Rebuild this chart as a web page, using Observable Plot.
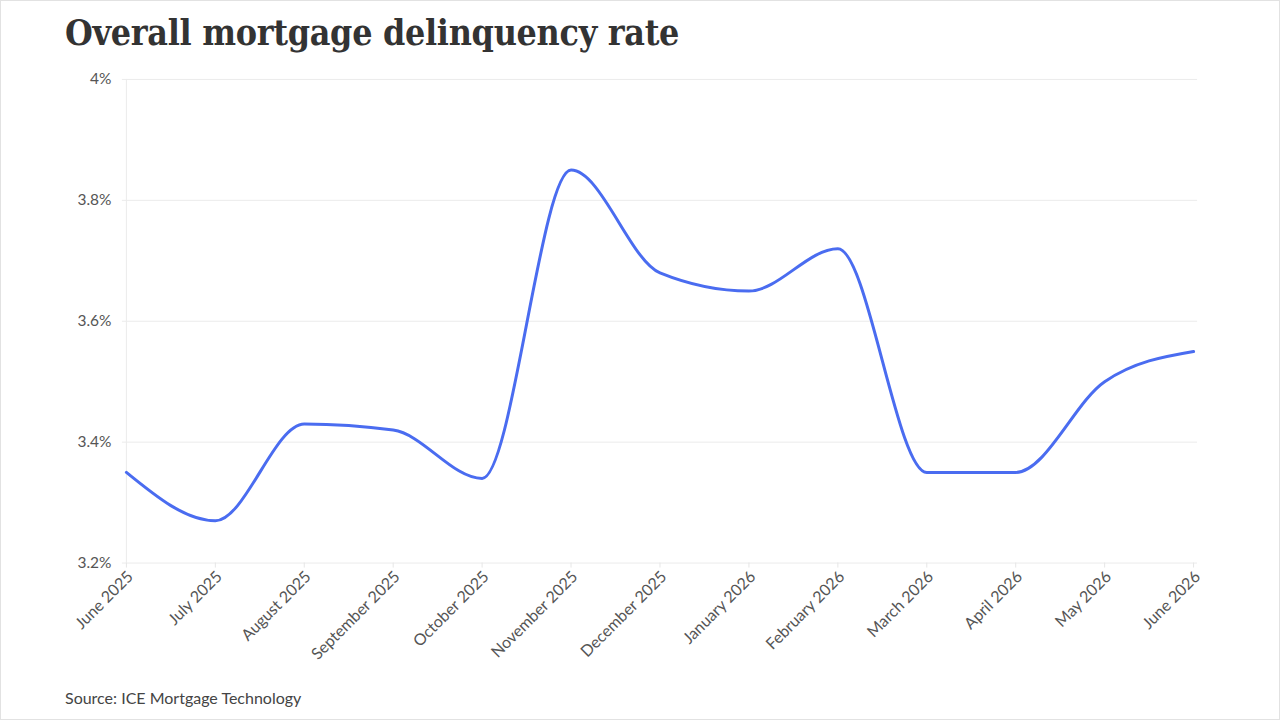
<!DOCTYPE html>
<html>
<head>
<meta charset="utf-8">
<script src="https://cdn.jsdelivr.net/npm/d3@7"></script>
<script src="https://cdn.jsdelivr.net/npm/@observablehq/plot@0.6"></script>
<style>
  html, body { margin: 0; padding: 0; background: #fff; }
  #frame {
    position: relative; width: 1280px; height: 720px; box-sizing: border-box;
    border: 1px solid #e2e2e2; overflow: hidden; background: #fff;
  }
  #title {
    position: absolute; left: 64px; top: 11px; margin: 0;
    font-family: "DejaVu Serif", serif; font-weight: bold; font-stretch: condensed;
    font-size: 35.5px; color: #333; letter-spacing: -0.3px; white-space: nowrap;
  }
  #source {
    position: absolute; left: 64px; top: 687px;
    font-family: Lato, sans-serif; font-size: 16px; color: #444;
  }
  #chart { position: absolute; left: -1px; top: -1px; }
  #chart svg text { font-family: Lato, sans-serif; }
</style>
</head>
<body>
<div id="frame">
  <h1 id="title">Overall mortgage delinquency rate</h1>
  <div id="chart"></div>
  <div id="source">Source: ICE Mortgage Technology</div>
</div>
<script>
// Monthly overall delinquency rate, percent
const months = [
  "June 2025", "July 2025", "August 2025", "September 2025", "October 2025",
  "November 2025", "December 2025", "January 2026", "February 2026",
  "March 2026", "April 2026", "May 2026", "June 2026"
];
const rates = [3.35, 3.27, 3.43, 3.42, 3.34, 3.85, 3.68, 3.65, 3.72, 3.35, 3.35, 3.50, 3.55];
const yTicks = [3.2, 3.4, 3.6, 3.8, 4.0];

const data = months.map((m, i) => ({month: m, rate: rates[i]}));

const chart = Plot.plot({
  width: 1280,
  height: 720,
  marginLeft: 122,
  marginRight: 82,
  marginTop: 79,
  marginBottom: 157,
  style: {fontFamily: "Lato, sans-serif", fontSize: "16px", color: "#555", background: "transparent"},
  x: {type: "point", domain: months, padding: 0, label: null},
  y: {domain: [3.2, 4.0], label: null},
  marks: [
    Plot.gridY(yTicks, {stroke: "#ebebeb", strokeOpacity: 1, strokeWidth: 1}),
    Plot.ruleX([months[0]], {stroke: "#ebebeb", strokeWidth: 1}),
    Plot.axisY(yTicks, {
      tickSize: 0, tickPadding: 11, fontSize: 15.5, fill: "#555",
      tickFormat: d => `${+d.toFixed(1)}%`
    }),
    // short light tick marks under each month
    Plot.axisX({tickSize: 5, stroke: "#e6e6e6", tickFormat: () => ""}),
    // rotated month labels, nudged down the tick line
    Plot.axisX({
      tickSize: 0, tickPadding: 11, tickRotate: -45, fontSize: 16, fill: "#555", dx: 4
    }),
    Plot.line(data, {
      x: "month", y: "rate", curve: "monotone-x",
      stroke: "#4a6cf0", strokeWidth: 3
    })
  ]
});
document.getElementById("chart").append(chart);
</script>
</body>
</html>
